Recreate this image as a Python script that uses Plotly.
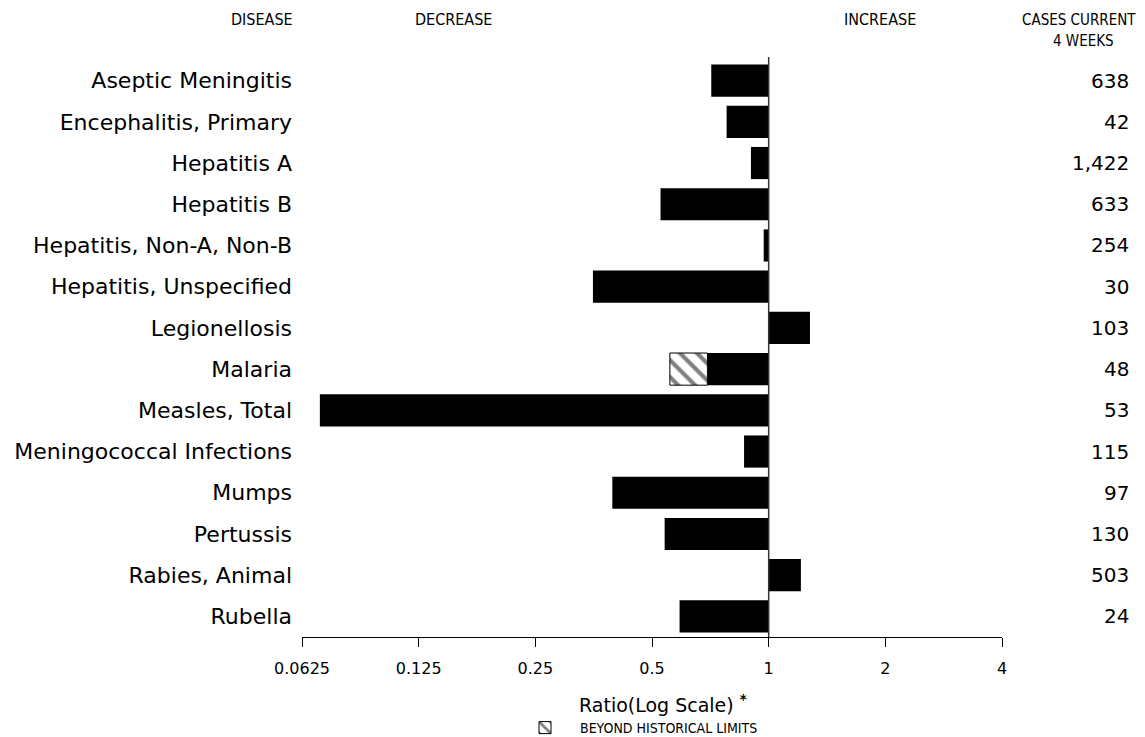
import plotly.graph_objects as go

# ---------------- data ----------------
diseases = [
    "Aseptic Meningitis", "Encephalitis, Primary", "Hepatitis A", "Hepatitis B",
    "Hepatitis, Non-A, Non-B", "Hepatitis, Unspecified", "Legionellosis", "Malaria",
    "Measles, Total", "Meningococcal Infections", "Mumps", "Pertussis",
    "Rabies, Animal", "Rubella",
]
ratios = [0.711, 0.779, 0.900, 0.526, 0.971, 0.352, 1.278, 0.695,
          0.0695, 0.864, 0.395, 0.539, 1.211, 0.589]
cases = ["638", "42", "1,422", "633", "254", "30", "103", "48",
         "53", "115", "97", "130", "503", "24"]
beyond_disease = ["Malaria"]
beyond_start = [0.695]
beyond_end = [0.556]
tick_vals = [0.0625, 0.125, 0.25, 0.5, 1, 2, 4]
tick_text = ["0.0625", "0.125", "0.25", "0.5", "1", "2", "4"]

# ---------------- layout helpers ----------------
W, H = 1145, 737
PLOT_L, PLOT_R, PLOT_T, PLOT_B = 302, 1002, 60, 637      # window pixels
L, R, T, B = PLOT_L, W - PLOT_R, PLOT_T, H - PLOT_B
PW, PH = PLOT_R - PLOT_L, PLOT_B - PLOT_T


def px(x):
    return (x - PLOT_L) / PW


def py(y):
    return (PLOT_B - y) / PH


LABEL_FONT = "DejaVu Sans, Noto Sans, sans-serif"
COND_FONT = "DejaVu Sans Condensed, Liberation Sans Narrow, DejaVu Sans, sans-serif"

fig = go.Figure()

fig.add_trace(go.Bar(
    y=diseases,
    x=[r - 1 for r in ratios],
    base=[1] * len(ratios),
    orientation="h",
    marker=dict(color="black", line=dict(width=0)),
    showlegend=False,
    hoverinfo="skip",
))

fig.add_trace(go.Bar(
    y=beyond_disease,
    x=[e - s for s, e in zip(beyond_start, beyond_end)],
    base=beyond_start,
    orientation="h",
    name="BEYOND HISTORICAL LIMITS",
    marker=dict(
        color="white",
        line=dict(color="black", width=1),
        pattern=dict(shape="\\", fgcolor="black", bgcolor="white", size=12, solidity=0.35),
    ),
    showlegend=True,
    hoverinfo="skip",
))

annotations = []
# headers
for txt, xc, yc, anchor, size in [("DISEASE", 262, 20, "center", 16),
                                  ("DECREASE", 453, 20, "center", 16),
                                  ("INCREASE", 880, 20, "center", 16),
                                  ("CASES CURRENT", 1138, 20, "right", 15),
                                  ("4 WEEKS", 1083, 41, "center", 15)]:
    annotations.append(dict(text=txt, xref="paper", yref="paper", x=px(xc), y=py(yc),
                            xanchor=anchor, yanchor="middle", showarrow=False,
                            font=dict(family=COND_FONT, size=size, color="black")))
# case counts
for d, c in zip(diseases, cases):
    annotations.append(dict(text=c, xref="paper", yref="y", x=px(1131), y=d,
                            xanchor="right", yanchor="middle", showarrow=False,
                            font=dict(family=LABEL_FONT, size=20, color="black")))
# axis title
annotations.append(dict(text="Ratio(Log Scale) <b><sup>*</sup></b>", xref="paper", yref="paper",
                        x=px(663), y=py(704), xanchor="center", yanchor="middle",
                        showarrow=False,
                        font=dict(family=LABEL_FONT, size=19, color="black")))

fig.update_layout(
    width=W, height=H,
    margin=dict(l=L, r=R, t=T, b=B, pad=0, autoexpand=False),
    paper_bgcolor="white", plot_bgcolor="white",
    barmode="overlay", bargap=0.22,
    annotations=annotations,
    shapes=[dict(type="line", xref="x", yref="paper", x0=1, x1=1, y0=0, y1=py(57),
                 line=dict(color="#333", width=1.5))],
    legend=dict(x=px(510), y=py(712), xanchor="left", yanchor="top",
                bgcolor="rgba(0,0,0,0)", itemwidth=60,
                font=dict(family=COND_FONT, size=14, color="black")),
    xaxis=dict(type="log", range=[-1.2041199827, 0.6020599913],
               tickvals=tick_vals, ticktext=tick_text,
               ticks="outside", ticklen=9, tickwidth=1, tickcolor="black",
               ticklabelstandoff=8,
               showline=True, linecolor="black", linewidth=1,
               showgrid=False, zeroline=False,
               tickfont=dict(family=LABEL_FONT, size=16, color="black")),
    yaxis=dict(categoryorder="array", categoryarray=diseases,
               range=[13.5, -0.5], showgrid=False, zeroline=False, showline=False,
               ticks="", ticklabelstandoff=9,
               tickfont=dict(family=LABEL_FONT, size=22, color="black")),
)

# remove the browser's default 8px page margin so the figure fills the window
fig.write_html("out.html", config={"displayModeBar": False},
               post_script="document.body.style.margin='0';")
